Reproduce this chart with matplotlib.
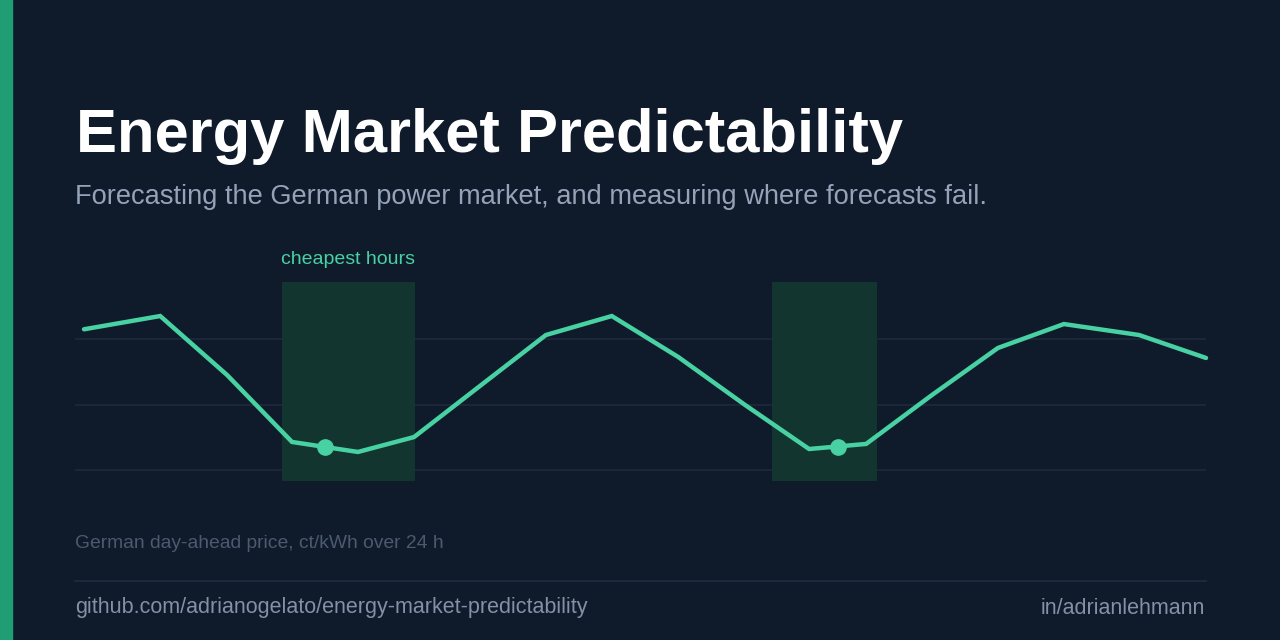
import matplotlib.pyplot as plt
from matplotlib.patches import Rectangle

plt.rcParams['font.family'] = ['Liberation Sans', 'DejaVu Sans']

# German day-ahead price over 24 h (ct/kWh)
hours = [0.0, 1.63, 3.06, 4.45, 5.86, 7.06, 8.47, 9.88, 11.29, 12.71,
         14.14, 15.51, 16.73, 18.14, 19.55, 20.96, 22.57, 24.0]
price = [16.61, 17.42, 13.82, 9.73, 9.12, 10.03, 13.15, 16.26, 17.42, 14.92,
         11.99, 9.30, 9.61, 12.60, 15.47, 16.93, 16.26, 14.86]

# cheapest windows and their marked points
cheap_windows = [(4.24, 7.08), (14.72, 16.96)]
cheap_hours = [5.15, 16.12]
cheap_price = [9.42, 9.45]
grid_levels = [8, 12, 16]

BG = '#0f1a2b'
GREEN = '#48d1a2'

W, H = 1280, 640
fig = plt.figure(figsize=(12.8, 6.4), dpi=100, facecolor=BG)

def px(x, y):
    return x / W, 1 - y / H

# left accent bar
fig.patches.append(Rectangle((0, 0), 12 / W, 1, transform=fig.transFigure,
                             color='#1f9e74', zorder=0))

fig.text(*px(76, 152), 'Energy Market Predictability', color='white',
         fontsize=44.3, fontweight='bold', va='baseline', ha='left')
fig.text(*px(75, 204), 'Forecasting the German power market, and measuring where forecasts fail.',
         color='#94a3b8', fontsize=19.6, va='baseline', ha='left')

# chart
l, r, t, b = 75, 1206, 270, 490
ax = fig.add_axes([l / W, 1 - b / H, (r - l) / W, (b - t) / H])
ax.set_facecolor(BG)
ax.set_xlim(-0.1925, 24.0)
ax.set_ylim(6.797, 20.23)
for s in ax.spines.values():
    s.set_visible(False)
ax.set_xticks([])
ax.set_yticks(grid_levels)
ax.tick_params(length=0, labelleft=False)
ax.grid(axis='y', color='#1e2a3d', linewidth=1.2)
ax.set_axisbelow(True)

for x0, x1 in cheap_windows:
    ax.fill_between([x0, x1], 7.35, 19.5, color='#12352f', linewidth=0, zorder=1)

ax.plot(hours, price, color=GREEN, linewidth=3.2, solid_capstyle='round',
        solid_joinstyle='miter', zorder=3, clip_on=False)
ax.plot(cheap_hours, cheap_price, 'o', color=GREEN, markersize=11, zorder=4)
ax.text(4.21, 20.60, 'cheapest hours', color=GREEN, fontsize=14,
        va='baseline', ha='left', clip_on=False)

fig.text(*px(75, 548), 'German day-ahead price, ct/kWh over 24 h', color='#4b5a6e',
         fontsize=13.9, va='baseline', ha='left')

# footer
fig.add_artist(plt.Line2D([75 / W, 1206 / W], [1 - 580.5 / H] * 2,
                          color='#1e2d44', linewidth=1.2))
fig.text(*px(75, 613.5), 'github.com/adrianogelato/energy-market-predictability',
         color='#8390a5', fontsize=15.5, va='baseline', ha='left')
fig.text(*px(1205, 613.5), 'in/adrianlehmann', color='#8390a5', fontsize=15.5,
         va='baseline', ha='right')

fig.savefig('out.png', dpi=100, facecolor=BG)
